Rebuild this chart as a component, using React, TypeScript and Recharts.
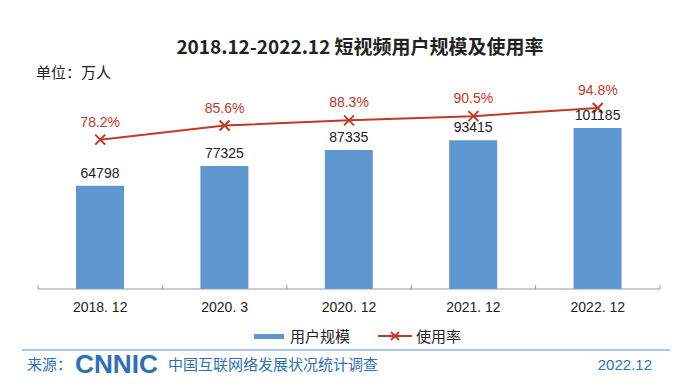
import React from 'react';
import { ComposedChart, Bar, Line, XAxis, YAxis, LabelList } from 'recharts';

const categories = ['2018. 12', '2020. 3', '2020. 12', '2021. 12', '2022. 12'];
const users = [64798, 77325, 87335, 93415, 101185];
const rates = [78.2, 85.6, 88.3, 90.5, 94.8];
const rateLabels = ['78.2%', '85.6%', '88.3%', '90.5%', '94.8%'];

const data = categories.map((c, i) => ({ name: c, users: users[i], rate: rates[i], rateLabel: rateLabels[i] }));

const W = 700;
const H = 391;
const M = { top: 98, right: 40, left: 38, bottom: 72 };
const BAND = (W - M.left - M.right) / categories.length;
const FONT = '"Liberation Sans", Arial, "Noto Sans CJK SC", sans-serif';
const CJK = '"Noto Sans CJK SC", "Liberation Sans", sans-serif';
const BLUE = '#5e97d0';
const RED = '#c0392b';
const FOOT = '#2f6fb5';

const XDot = (props: any) => {
  const { cx, cy } = props;
  if (cx == null || cy == null) return null;
  const s = 5;
  return (
    <g>
      <line x1={cx - s} y1={cy - s} x2={cx + s} y2={cy + s} stroke={RED} strokeWidth={2} />
      <line x1={cx - s} y1={cy + s} x2={cx + s} y2={cy - s} stroke={RED} strokeWidth={2} />
    </g>
  );
};

const Tick = (props: any) => {
  const { x, y, payload, index } = props;
  const half = BAND / 2;
  return (
    <g>
      <line x1={x - half} y1={y - 4} x2={x - half} y2={y} stroke="#999" strokeWidth={1} />
      {index === categories.length - 1 && (
        <line x1={x + half} y1={y - 4} x2={x + half} y2={y} stroke="#999" strokeWidth={1} />
      )}
      <text x={x} y={y + 23} textAnchor="middle" fontSize={14} fill="#222" fontFamily={FONT}>
        {payload.value}
      </text>
    </g>
  );
};

export default function App() {
  return (
    <div style={{ position: 'absolute', left: 0, top: 0, width: W, height: H, background: '#fff' }}>
      <svg width={W} height={H} style={{ position: 'absolute', left: 0, top: 0 }}>
        <text x={360} y={54} textAnchor="middle" fontSize={19} fontWeight={700} fill="#222" fontFamily={CJK}>
          2018.12-2022.12 短视频用户规模及使用率
        </text>
        <text x={36} y={78} fontSize={15} fill="#222" fontFamily={CJK}>单位：万人</text>
        <rect x={254} y={334} width={30} height={5} fill={BLUE} />
        <text x={290} y={342} fontSize={15} fill="#222" fontFamily={CJK}>用户规模</text>
        <line x1={378} y1={336} x2={412} y2={336} stroke={RED} strokeWidth={2} />
        <line x1={391} y1={332} x2={399} y2={340} stroke={RED} strokeWidth={2} />
        <line x1={391} y1={340} x2={399} y2={332} stroke={RED} strokeWidth={2} />
        <text x={416} y={342} fontSize={15} fill="#222" fontFamily={CJK}>使用率</text>
        <line x1={22} y1={350} x2={670} y2={350} stroke="#8fb4e3" strokeWidth={1.5} />
        <text x={27} y={370} fontSize={15} fill={FOOT} fontFamily={CJK}>来源：</text>
        <text x={75} y={373} fontSize={26} fontWeight={900} fill={FOOT} fontFamily={FONT} textLength={83} lengthAdjust="spacingAndGlyphs">
          CNNIC
        </text>
        <text x={168} y={370} fontSize={15} fill={FOOT} fontFamily={CJK}>中国互联网络发展状况统计调查</text>
        <text x={652} y={370} textAnchor="end" fontSize={15} fill={FOOT} fontFamily={FONT}>2022.12</text>
      </svg>
      <div style={{ position: 'absolute', left: 0, top: 0 }}>
        <ComposedChart width={W} height={H} data={data} margin={M}>
          <XAxis
            dataKey="name"
            height={30}
            tickSize={0}
            tickMargin={0}
            axisLine={{ stroke: '#999' }}
            tick={<Tick />}
            interval={0}
          />
          <YAxis yAxisId="left" hide domain={[0, 120000]} />
          <YAxis yAxisId="right" hide orientation="right" domain={[0, 100]} />
          <Bar yAxisId="left" dataKey="users" fill={BLUE} barSize={48} isAnimationActive={false}>
            <LabelList dataKey="users" position="top" offset={8} fontSize={14} fill="#222" fontFamily={FONT} />
          </Bar>
          <Line
            yAxisId="right"
            dataKey="rate"
            stroke={RED}
            strokeWidth={2}
            dot={<XDot />}
            activeDot={false}
            isAnimationActive={false}
          >
            <LabelList dataKey="rateLabel" position="top" offset={13} fontSize={14} fill={RED} fontFamily={FONT} />
          </Line>
        </ComposedChart>
      </div>
    </div>
  );
}
